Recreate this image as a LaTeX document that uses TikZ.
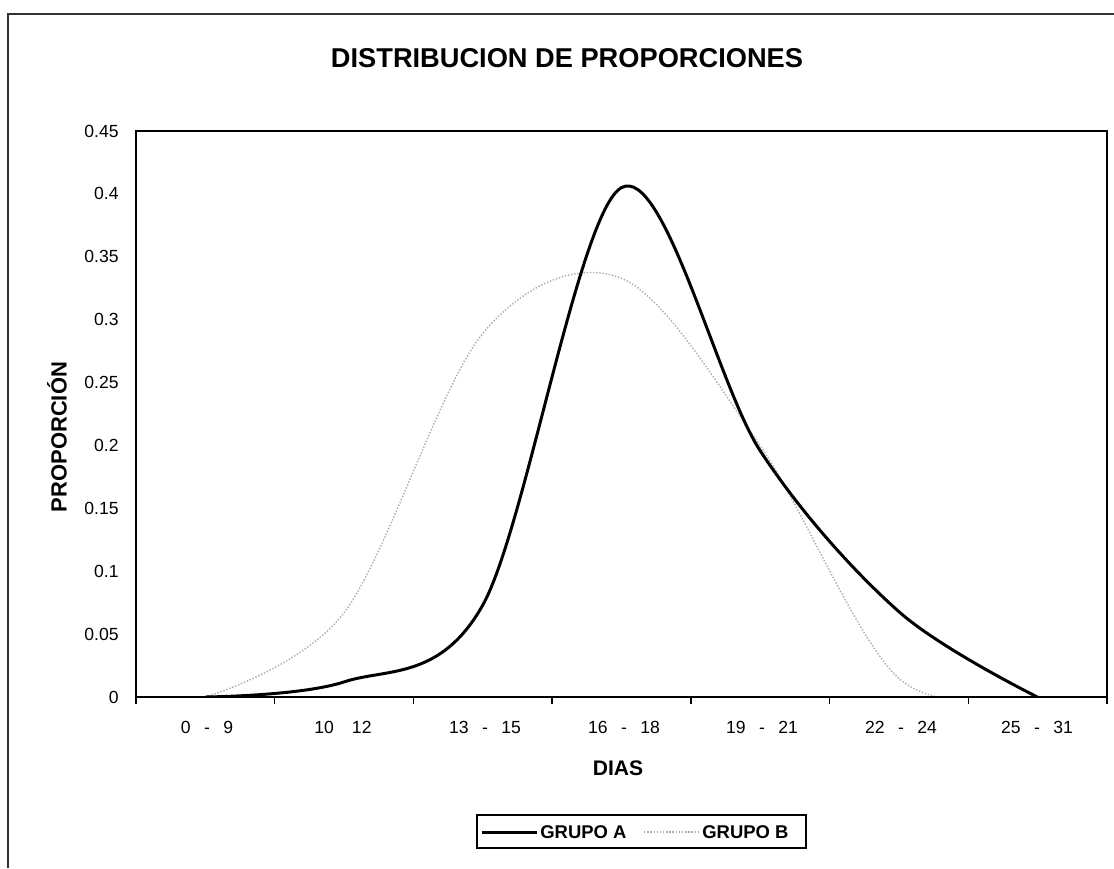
\documentclass[tikz,border=0pt]{standalone}
\usepackage{fontspec}
\setmainfont{Liberation Sans}
\newcommand{\rango}[2]{#1\hspace{0.27cm}-\hspace{0.27cm}#2}

\begin{document}
\begin{tikzpicture}[x=0.02cm,y=-0.02cm,
	ylab/.style={anchor=east,inner sep=0pt,font=\fontsize{10}{12}\selectfont},
	xlab/.style={inner sep=0pt,font=\fontsize{10}{12}\selectfont},
	titbox/.style={inner sep=0pt,font=\bfseries\fontsize{12}{14}\selectfont},
	leyenda/.style={anchor=west,inner sep=0pt,font=\bfseries\fontsize{10.5}{12}\selectfont},
	grupoA/.style={black,line width=1.7pt},
	grupoB/.style={gray!65,line width=0.8pt,densely dotted}]
	\useasboundingbox (0,0) rectangle (1114,868);
	% marco del grafico
	\draw[black!80,line width=0.6pt] (8,868) -- (8,14) -- (1114,14);
	\node[inner sep=0pt,font=\bfseries\fontsize{15.5}{18}\selectfont] (titulo) at (567,58) {DISTRIBUCION DE PROPORCIONES};
	% series (recortadas al area de trazado)
	\begin{scope}
		\clip (136,131) rectangle (1107,697);
		\begin{scope}[shift={(136,697)},x=2.774cm,y=25.156cm]
			\draw[grupoB] plot[smooth,tension=0.55] coordinates {(0.5,0) (1.5,0.067) (2.5,0.289) (3.5,0.333) (4.5,0.2) (5.5,0.015) (6.5,0)};
			\draw[grupoA] plot[smooth,tension=0.55] coordinates {(0.5,0) (1.5,0.012) (2.5,0.073) (3.5,0.405) (4.5,0.196) (5.5,0.068) (6.5,0)};
		\end{scope}
	\end{scope}
	% area de trazado
	\draw[line width=1.1pt] (136,131) rectangle (1107,697);
	\foreach \lab [count=\i from 0] in {0,0.05,0.1,0.15,0.2,0.25,0.3,0.35,0.4,0.45}
		\node[ylab] (y\i) at (119,697-62.89*\i) {\lab};
	\foreach \k in {0,...,7}
		\draw[line width=0.8pt] (136+138.7*\k,697) -- (136+138.7*\k,704);
	\node[xlab] (x1) at (207,727) {\rango{0}{9}};
	\node[xlab] (x2) at (343,727) {10\hspace{0.36cm}12};
	\node[xlab] (x3) at (485,727) {\rango{13}{15}};
	\node[xlab] (x4) at (624,727) {\rango{16}{18}};
	\node[xlab] (x5) at (762,727) {\rango{19}{21}};
	\node[xlab] (x6) at (901,727) {\rango{22}{24}};
	\node[xlab] (x7) at (1037,727) {\rango{25}{31}};
	\node[titbox] (dias) at (618,768) {DIAS};
	\node[titbox,rotate=90,font=\bfseries\fontsize{12.5}{14}\selectfont] (prop) at (57,437) {PROPORCIÓN};
	% leyenda
	\draw[line width=0.6pt] (477,815) rectangle (806,848);
	\coordinate (la1) at (482,832);
	\coordinate (la2) at (537,832);
	\coordinate (lb1) at (644,832);
	\coordinate (lb2) at (699,832);
	\draw[grupoA] (la1) -- (la2);
	\node[leyenda] (na) at (540,832) {GRUPO A};
	\draw[grupoB] (lb1) -- (lb2);
	\node[leyenda] (nb) at (702,832) {GRUPO B};
\end{tikzpicture}
\end{document}
